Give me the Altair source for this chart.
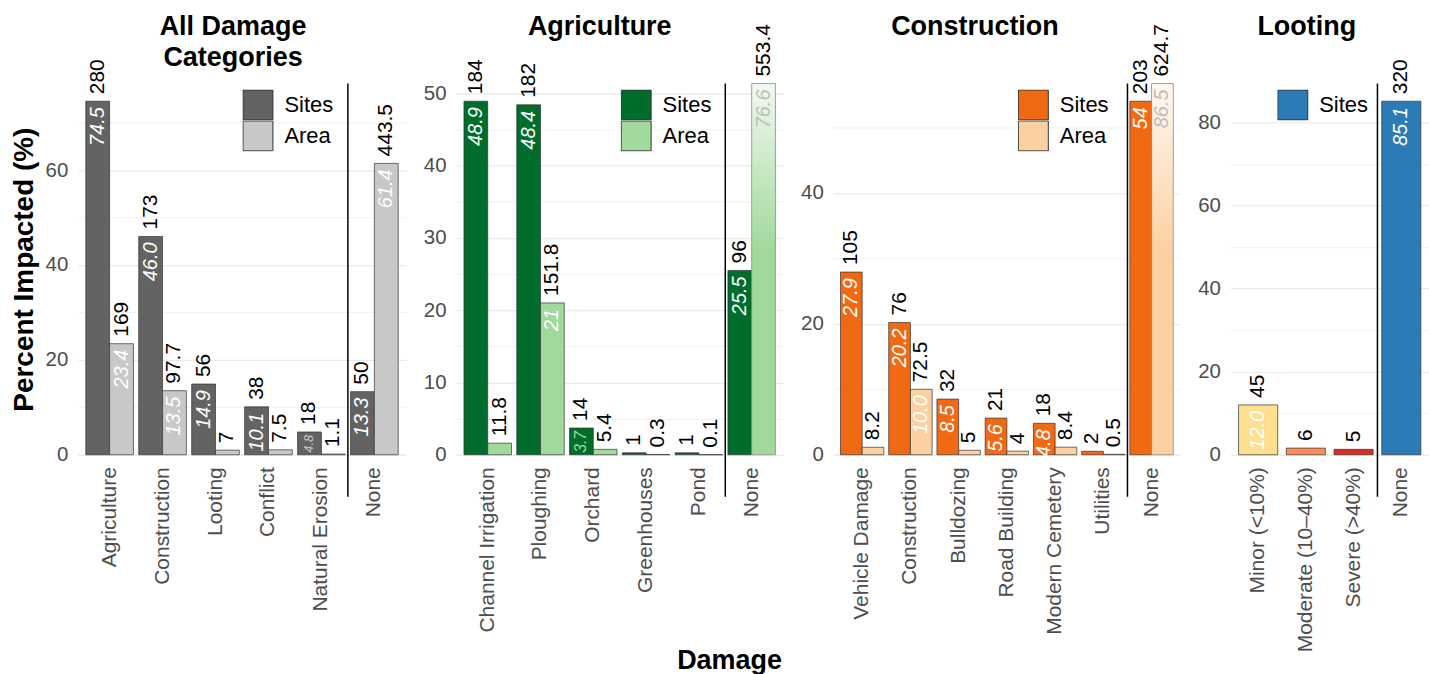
import altair as alt
import pandas as pd

# ---------------- data ----------------
all_cats = ["Agriculture", "Construction", "Looting", "Conflict", "Natural Erosion", "None"]
all_sites_pct = [74.5, 46.0, 14.9, 10.1, 4.8, 13.3]
all_sites_n = ["280", "173", "56", "38", "18", "50"]
all_sites_lab = ["74.5", "46.0", "14.9", "10.1", "4.8", "13.3"]
all_area_pct = [23.4, 13.5, 0.97, 1.04, 0.15, 61.4]
all_area_n = ["169", "97.7", "7", "7.5", "1.1", "443.5"]
all_area_lab = ["23.4", "13.5", "", "", "", "61.4"]

ag_cats = ["Channel Irrigation", "Ploughing", "Orchard", "Greenhouses", "Pond", "None"]
ag_sites_pct = [48.9, 48.4, 3.7, 0.27, 0.27, 25.5]
ag_sites_n = ["184", "182", "14", "1", "1", "96"]
ag_sites_lab = ["48.9", "48.4", "3.7", "", "", "25.5"]
ag_area_pct = [1.6, 21.0, 0.75, 0.04, 0.01, 76.6]
ag_area_n = ["11.8", "151.8", "5.4", "0.3", "0.1", "553.4"]
ag_area_lab = ["", "21", "", "", "", "76.6"]

con_cats = ["Vehicle Damage", "Construction", "Bulldozing", "Road Building",
            "Modern Cemetery", "Utilities", "None"]
con_sites_pct = [27.9, 20.2, 8.5, 5.6, 4.8, 0.53, 54.0]
con_sites_n = ["105", "76", "32", "21", "18", "2", "203"]
con_sites_lab = ["27.9", "20.2", "8.5", "5.6", "4.8", "", "54"]
con_area_pct = [1.14, 10.0, 0.69, 0.55, 1.16, 0.07, 86.5]
con_area_n = ["8.2", "72.5", "5", "4", "8.4", "0.5", "624.7"]
con_area_lab = ["", "10.0", "", "", "", "", "86.5"]

loot_cats = ["Minor (<10%)", "Moderate (10–40%)", "Severe (>40%)", "None"]
loot_keys = ["Minor", "Moderate", "Severe", "Sites"]
loot_sites_pct = [12.0, 1.6, 1.3, 85.1]
loot_sites_n = ["45", "6", "5", "320"]
loot_sites_lab = ["12.0", "", "", "85.1"]

# ---------------- styling ----------------
H = 372
FONT = "Liberation Sans"
TXT = "#4d4d4d"
GRID = "#ebebeb"


def rows_for(cats, series, keys, pct, counts, labels, ymax, small_col):
    out = []
    px = H / ymax
    for c, k, p, n, lab in zip(cats, keys, pct, counts, labels):
        yb = min(p, ymax)
        grad = p > ymax
        bar_px = yb * px
        em = 0.556 * sum(ch.isdigit() for ch in lab) + 0.278 * lab.count(".")
        small = bool(lab) and bar_px < 30
        fs = (bar_px - 5) / em if small else 20.0
        lc = "#bdbdbd" if grad else (small_col if small else "#ffffff")
        out.append(dict(cat=c, series=series, key=k, pct=p, ybar=yb, grad=grad,
                        n=n, lab=lab, fs=round(fs, 1), small=small, lc=lc))
    return out


def make_panel(df, cats, title, width, ymax, major, minor, fdom, frange, lvals, lx,
               pin, pout, dodge, toff, tdx, ytitle=None, grad_colors=None):
    def X(bp=None):
        kw = {}
        if bp is not None:
            kw["bandPosition"] = bp
        return alt.X("cat:N", sort=cats, title=None,
                     scale=alt.Scale(domain=cats, paddingInner=pin, paddingOuter=pout),
                     axis=alt.Axis(labelAngle=270, labelAlign="right", labelBaseline="middle",
                                   labelFontSize=21, labelColor=TXT, labelPadding=12,
                                   domain=False, ticks=False, tickSize=0, grid=False,
                                   labelLimit=400),
                     **kw)

    yvals = list(range(0, int(ymax) + 1, minor))
    Y = alt.Y("ybar:Q", title=ytitle,
              scale=alt.Scale(domain=[0, ymax], nice=False, zero=True),
              axis=alt.Axis(values=yvals,
                            labelExpr=f"datum.value % {major} === 0 ? datum.label : ''",
                            labelFontSize=20.5, labelColor=TXT, labelPadding=10,
                            domain=False, ticks=False, tickSize=0, gridColor=GRID,
                            gridWidth={"condition": {"test": f"datum.value % {major} === 0",
                                                     "value": 1.3}, "value": 0.7},
                            labelOverlap=False, titleFontSize=28, titleFontWeight="bold",
                            titleColor="black", titlePadding=7))
    enc = dict(x=X(), y=Y)
    if dodge:
        enc["xOffset"] = alt.XOffset("series:N", scale=alt.Scale(domain=["Sites", "Area"]))

    base = alt.Chart(df)
    legend = alt.Legend(title=None, orient="none", legendX=lx, legendY=6, values=lvals,
                        symbolType="square", symbolSize=900, symbolStrokeColor="#333333",
                        symbolStrokeWidth=1, symbolOpacity=1, labelFontSize=22,
                        labelColor="black", labelOffset=11, rowPadding=0, padding=0,
                        clipHeight=31, direction="vertical")
    layers = []
    bars = base.transform_filter("!datum.grad").mark_bar(
        stroke="#333333", strokeWidth=0.7).encode(
        fill=alt.Fill("key:N", scale=alt.Scale(domain=fdom, range=frange), legend=legend),
        **enc)
    layers.append(bars)
    if grad_colors is not None:
        gbar = base.transform_filter("datum.grad").mark_bar(
            fill=alt.Gradient(gradient="linear",
                              stops=[alt.GradientStop(color=grad_colors[0], offset=0),
                                     alt.GradientStop(color=grad_colors[1], offset=0.45)],
                              x1=0, x2=0, y1=0, y2=1),
            stroke="#8a8a8a", strokeWidth=0.8).encode(**enc)
        layers.append(gbar)
    cnt = base.mark_text(angle=270, align="left", baseline="middle", dx=7, fontSize=21,
                         color="black").encode(text="n:N", **enc)
    big = base.transform_filter("datum.lab != '' && !datum.small").mark_text(
        angle=270, align="right", baseline="middle", dx=-6, fontStyle="italic").encode(
        text="lab:N", size=alt.Size("fs:Q", scale=None),
        color=alt.Color("lc:N", scale=None), **enc)
    sml = base.transform_filter("datum.lab != '' && datum.small").mark_text(
        angle=270, align="right", baseline="middle", dx=-3, fontStyle="italic").encode(
        text="lab:N", size=alt.Size("fs:Q", scale=None),
        color=alt.Color("lc:N", scale=None), **enc)
    layers += [cnt, big, sml]
    # separator halfway through the gap before the "None" band
    step = width / (len(cats) - pin + 2 * pout)
    sep = alt.Chart(pd.DataFrame({"cat": ["None"]})).mark_rule(
        color="black", strokeWidth=1.5).encode(
        x=X(0), xOffset=alt.value(-step * pin / 2), y=alt.value(0), y2=alt.value(H + 42))
    layers.append(sep)
    return alt.layer(*layers).properties(
        width=width, height=H,
        title=alt.TitleParams(text=title, fontSize=27, fontWeight="bold", color="black",
                              anchor="middle", frame="group", baseline="top",
                              offset=toff, dx=tdx, lineHeight=31))


# ---------------- panels ----------------
GRAY = ["#636363", "#c8c8c8"]
GREEN = ["#006d2c", "#a1d99b"]
ORANGE = ["#f16913", "#fdd0a2"]
LOOT = ["#2c7bb6", "#fee090", "#fc8d59", "#d73027"]

ymax1 = 74.5 * 1.05
df1 = pd.DataFrame(
    rows_for(all_cats, "Sites", ["Sites"] * 6, all_sites_pct, all_sites_n, all_sites_lab, ymax1, GRAY[1])
    + rows_for(all_cats, "Area", ["Area"] * 6, all_area_pct, all_area_n, all_area_lab, ymax1, GRAY[1]))
p1 = make_panel(df1, all_cats, ["All Damage", "Categories"], 329, ymax1, 20, 10,
                ["Sites", "Area"], GRAY, ["Sites", "Area"], 165, 0.1, 0.15, True,
                -12.7, -9, ytitle="Percent Impacted (%)")

ymax2 = 48.9 * 1.05
df2 = pd.DataFrame(
    rows_for(ag_cats, "Sites", ["Sites"] * 6, ag_sites_pct, ag_sites_n, ag_sites_lab, ymax2, GREEN[1])
    + rows_for(ag_cats, "Area", ["Area"] * 6, ag_area_pct, ag_area_n, ag_area_lab, ymax2, GREEN[1]))
p2 = make_panel(df2, ag_cats, "Agriculture", 328, ymax2, 10, 5,
                ["Sites", "Area"], GREEN, ["Sites", "Area"], 165, 0.1, 0.15, True,
                -17, -20, grad_colors=["#f1f9f0", GREEN[1]])

ymax3 = 54.0 * 1.05
df3 = pd.DataFrame(
    rows_for(con_cats, "Sites", ["Sites"] * 7, con_sites_pct, con_sites_n, con_sites_lab, ymax3, ORANGE[1])
    + rows_for(con_cats, "Area", ["Area"] * 7, con_area_pct, con_area_n, con_area_lab, ymax3, ORANGE[1]))
p3 = make_panel(df3, con_cats, "Construction", 348, ymax3, 20, 10,
                ["Sites", "Area"], ORANGE, ["Sites", "Area"], 185, 0.1, 0.15, True,
                -17, -32, grad_colors=["#fff8f0", ORANGE[1]])

ymax4 = 85.1 * 1.05
df4 = pd.DataFrame(
    rows_for(loot_cats, "Sites", loot_keys, loot_sites_pct, loot_sites_n, loot_sites_lab, ymax4, "#ffffff"))
p4 = make_panel(df4, loot_cats, "Looting", 199, ymax4, 20, 10,
                ["Sites", "Minor", "Moderate", "Severe"], LOOT, ["Sites"], 47, 0.18, 0.17, False,
                18.3, -23)

chart = alt.hconcat(p1, p2, p3, p4, spacing=50, bounds="flush").properties(
    title=alt.TitleParams("Damage", orient="bottom", anchor="middle", fontSize=27,
                          fontWeight="bold", color="black", baseline="top", offset=-4, dx=10),
    padding={"left": 10, "top": 12, "right": 0, "bottom": 0},
).resolve_scale(x="independent", y="independent", fill="independent",
                xOffset="independent").resolve_legend(fill="independent").configure(
    font=FONT).configure_view(stroke=None)

chart.save("out.html", embed_options={"renderer": "svg", "actions": False})
